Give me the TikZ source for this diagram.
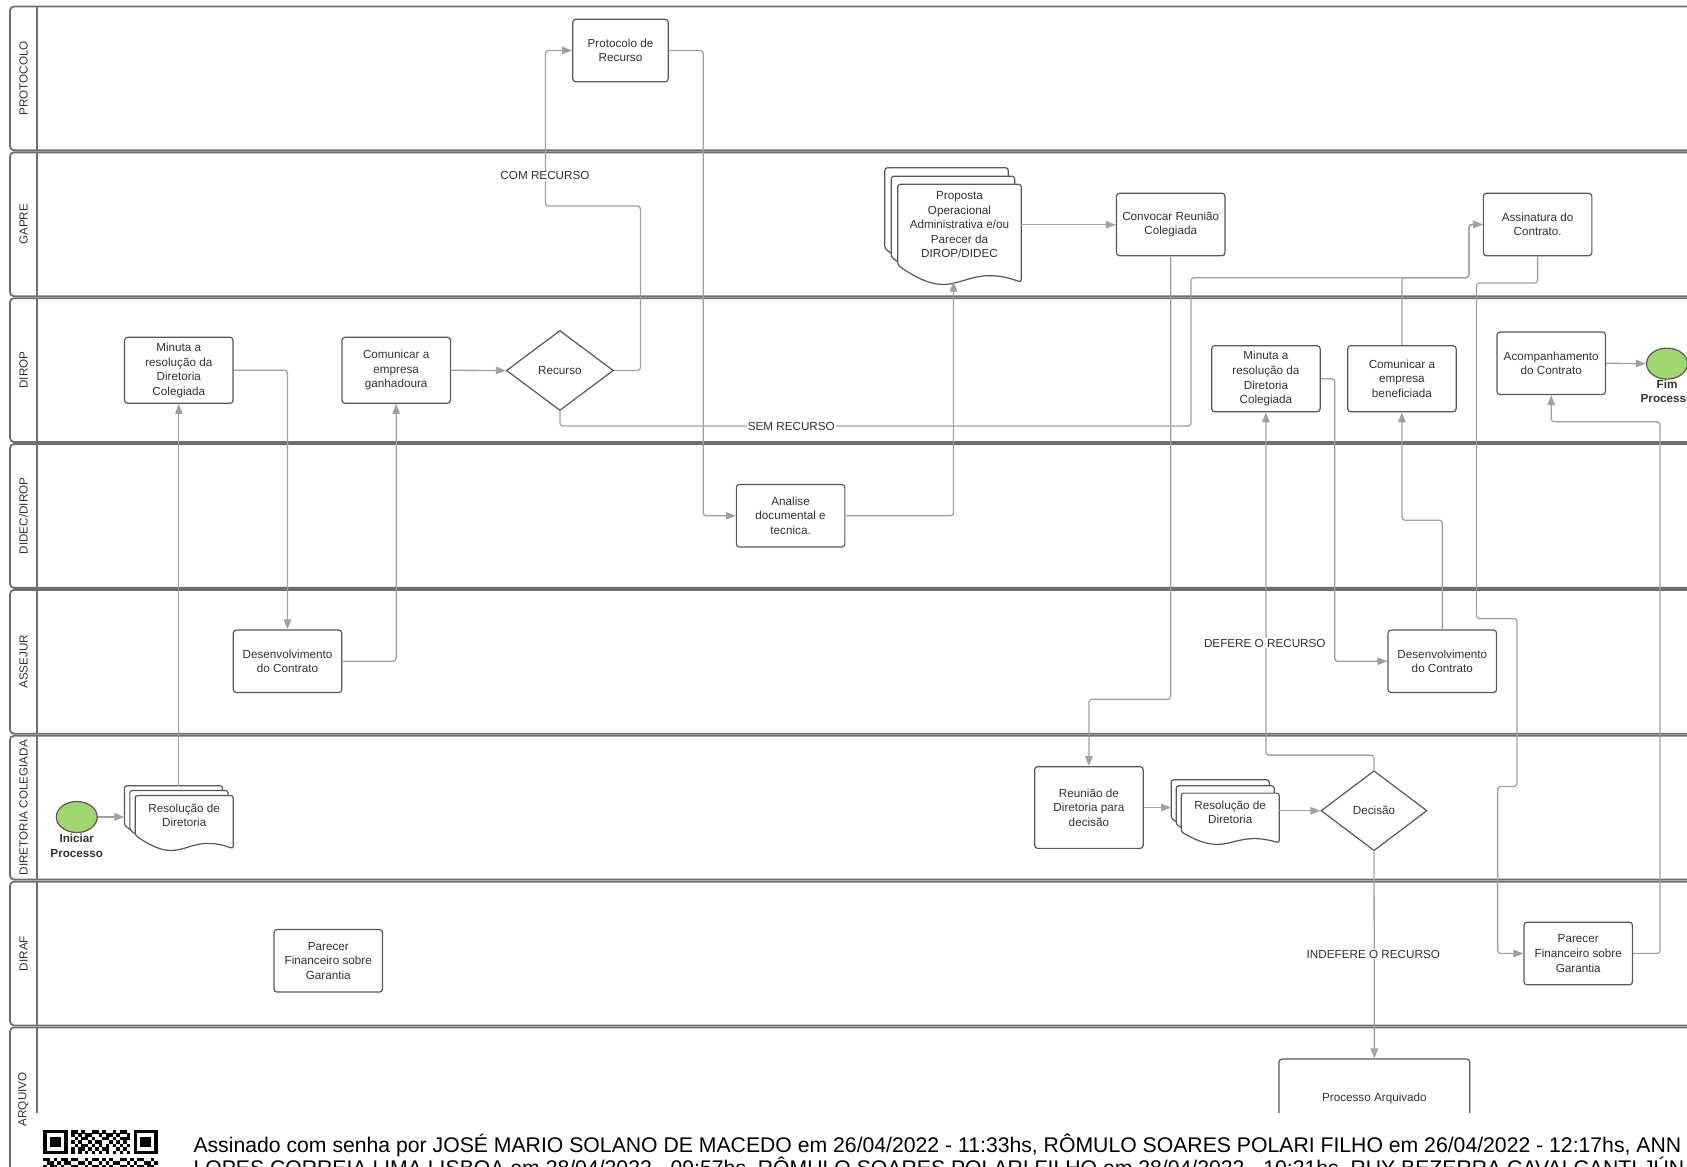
\documentclass[tikz,border=0pt]{standalone}
\usepackage{fontspec}
\setmainfont{Liberation Sans}
\usepackage{xcolor}
\usepackage{tikz}
\usetikzlibrary{shapes.geometric, arrows.meta, positioning, backgrounds, calc}
\definecolor{laneline}{RGB}{110,110,110}
\definecolor{boxline}{RGB}{88,88,88}
\definecolor{flowgray}{RGB}{160,160,160}
\definecolor{textgray}{RGB}{51,51,51}
\definecolor{eventgreen}{RGB}{160,214,110}
\newcommand{\taskfont}{\fontsize{11.7}{14.6}\selectfont}
\newcommand{\lanefont}{\fontsize{11.7}{14}\selectfont}
\newcommand{\footfont}{\fontsize{21.2}{23}\selectfont}
% one sheet of a document stack: node, dx, dy, wave depth
\newcommand{\docsheet}[4]{%
  \draw[docline] ([shift={(#2,#3)}]#1.north west) -- ([shift={(#2,#3)}]#1.north east)
    -- ([shift={(#2,#3+#4)}]#1.south east)
    .. controls ([shift={(#2,#3-0.31*#4)}]#1.south) and ([shift={(#2,#3+2.56*#4)}]#1.south)
    .. ([shift={(#2,#3)}]#1.south west) -- cycle;}
\tikzset{
    lane/.style={draw=laneline, line width=1.8pt, rounded corners=4pt},
    lanesep/.style={draw=laneline, line width=1.4pt},
    lanelabel/.style={rotate=90, font=\lanefont, text=textgray, inner sep=0pt},
    task/.style={rectangle, rounded corners=3pt, minimum width=108.5pt, minimum height=62.5pt,
                 align=center, draw=boxline, fill=white, line width=1.2pt, inner sep=1pt,
                 font=\taskfont, text=textgray},
    decision/.style={diamond, minimum width=107pt, minimum height=80pt, inner sep=0pt,
                     draw=boxline, fill=white, line width=1.2pt, font=\taskfont, text=textgray},
    docnode/.style={rectangle, inner sep=1pt, align=center, font=\taskfont, text=textgray},
    docline/.style={draw=boxline, fill=white, line width=1.2pt, rounded corners=2.5pt},
    event/.style={ellipse, minimum width=41pt, minimum height=31pt, inner sep=0pt,
                  draw=boxline, fill=eventgreen, line width=1.2pt},
    eventlabel/.style={align=center, inner sep=0pt, font=\taskfont\bfseries, text=textgray},
    flow/.style={draw=flowgray, line width=1.3pt, rounded corners=3pt,
                 -{Triangle[length=10pt, width=7.5pt]}},
    flowlabel/.style={fill=white, inner sep=1pt, font=\taskfont, text=textgray},
    foottext/.style={anchor=base west, inner sep=0pt, font=\footfont, text=black}
}

\begin{document}
\begin{tikzpicture}[x=1pt, y=-1pt]
    \useasboundingbox (0,0) rectangle (1687,1167);
    \clip (0,0) rectangle (1687,1167);

    % Lanes
    \begin{scope}[on background layer]
        \foreach \lname [count=\i from 0] in {PROTOCOLO, GAPRE, DIROP, DIDEC/DIROP, ASSEJUR, DIRETORIA COLEGIADA, DIRAF, ARQUIVO} {
            \pgfmathsetmacro{\ltop}{6.5+145.85*\i}
            \draw[lane] (10,\ltop) rectangle (1720,\ltop+143.8);
            \draw[lanesep] (37,\ltop) -- (37,\ltop+143.8);
            \node[lanelabel] (lane\i) at (23.5,\ltop+71.9) {\lname};
        }
    \end{scope}

    % PROTOCOLO
    \node[task, minimum width=95.5pt] (protocolo) at (620.5,50.5) {Protocolo de\\Recurso};

    % GAPRE
    \node[docnode, minimum width=123pt, minimum height=80.5pt] (proposta) at (959.5,224.75)
        {Proposta\\Operacional\\Administrativa e/ou\\Parecer da\\DIROP/DIDEC};
    \node[task] (convocar) at (1170.7,224.5) {Convocar Reunião\\Colegiada};
    \node[task] (assinatura) at (1537.6,224.5) {Assinatura do\\Contrato.};

    % DIROP
    \node[task, minimum height=66pt] (minutaA) at (178.8,370.3) {Minuta a\\resolução da\\Diretoria\\Colegiada};
    \node[task, minimum height=66pt] (comganh) at (396.2,370.3) {Comunicar a\\empresa\\ganhadoura};
    \node[decision] (recurso) at (559.9,370.5) {Recurso};
    \node[task, minimum height=66pt] (minutaB) at (1265.9,378.7) {Minuta a\\resolução da\\Diretoria\\Colegiada};
    \node[task, minimum height=66pt] (combenef) at (1401.9,378.7) {Comunicar a\\empresa\\beneficiada};
    \node[task] (acomp) at (1551.2,363.3) {Acompanhamento\\do Contrato};
    \node[event] (fim) at (1667,363.6) {};
    \node[eventlabel, below=0pt of fim] (fimlabel) {Fim\\Processo};

    % DIDEC/DIROP
    \node[task] (analise) at (790.6,515.7) {Analise\\documental e\\tecnica.};

    % ASSEJUR
    \node[task] (desenvA) at (287.5,661.3) {Desenvolvimento\\do Contrato};
    \node[task] (desenvB) at (1442.3,661.3) {Desenvolvimento\\do Contrato};

    % DIRETORIA COLEGIADA
    \node[event] (start) at (76.8,817) {};
    \node[eventlabel, below=1pt of start] (startlabel) {Iniciar\\Processo};
    \node[docnode, minimum width=97.7pt, minimum height=39.3pt] (resolA) at (184.2,815.3) {Resolução de\\Diretoria};
    \node[task, minimum height=81.7pt] (reuniao) at (1088.9,807.5) {Reunião de\\Diretoria para\\decisão};
    \node[docnode, minimum width=97.6pt, minimum height=38.4pt] (resolB) at (1230.2,812.5) {Resolução de\\Diretoria};
    \node[decision, minimum width=106pt] (decisao) at (1374,810.7) {Decisão};

    % DIRAF
    \node[task] (parecerA) at (328.3,960.8) {Parecer\\Financeiro sobre\\Garantia};
    \node[task] (parecerB) at (1578.2,953.5) {Parecer\\Financeiro sobre\\Garantia};

    % ARQUIVO
    \node[task, minimum width=190.7pt, minimum height=78pt] (arquivo) at (1374.4,1098) {Processo Arquivado};

    % Document stacks
    \begin{scope}[on background layer]
        \docsheet{proposta}{-13}{-16.5}{17}
        \docsheet{proposta}{-6.5}{-8}{17}
        \docsheet{proposta}{0}{0}{17}
        \docsheet{resolA}{-10.7}{-9.7}{13.5}
        \docsheet{resolA}{-5.3}{-5}{13.5}
        \docsheet{resolA}{0}{0}{13.5}
        \docsheet{resolB}{-10}{-13.3}{11}
        \docsheet{resolB}{-5}{-7.3}{11}
        \docsheet{resolB}{0}{0}{11}
    \end{scope}
    \coordinate (propfoot) at (953.5,281.5);
    \coordinate (resolAtop) at (178.8,786);
    \coordinate (resolAin) at ([xshift=-10.7pt]resolA.west);
    \coordinate (resolBin) at ([xshift=-10pt]resolB.west);

    % Connectors
    \draw[flow] (start.east) -- (start.east -| resolAin);
    \draw[flow] (resolAtop) -- (resolAtop |- minutaA.south);
    \draw[flow] (minutaA.east) -| (desenvA.north);
    \draw[flow] (desenvA.east) -| (comganh.south);
    \draw[flow] (comganh.east) -- (recurso.west);
    \draw[flow] (recurso.east) -- ++(26.5,0) |- (545.5,206) |- (protocolo.west);
    \draw[flow] (recurso.south) |- (1191,426) |- (1469,277.7) |- (assinatura.west);
    \draw[flow] (combenef.north) |- (1469,277.7) |- (assinatura.west);
    \draw[flow] (protocolo.east) -- ++(34.3,0) |- (analise.west);
    \draw[flow] (analise.east) -| (propfoot);
    \draw[flow] (proposta.east) -- (proposta.east -| convocar.west);
    \draw[flow] (convocar.south) -- ++(0,443) -| (reuniao.north);
    \draw[flow] (reuniao.east) -- (reuniao.east -| resolBin);
    \draw[flow] (resolB.east |- decisao.west) -- (decisao.west);
    \draw[flow] (decisao.north) -- ++(0,-15) -| (minutaB.south);
    \draw[flow] (minutaB.east) -- ++(14,0) |- (desenvB.west);
    \draw[flow] (desenvB.north) -- ++(0,-109.3) -| (combenef.south);
    \draw[flow] (assinatura.south) |- (1476.5,283) |- (1517,618.6) |- (1497.6,786.5) |- (parecerB.west);
    \draw[flow] (parecerB.east) -| (1660,421.8) -| (acomp.south);
    \draw[flow] (acomp.east) -- (fim.west);
    \draw[flow] (decisao.south) -- (arquivo.north);

    % Labels on connectors
    \node[flowlabel] (lblcom) at (545,175.7) {COM RECURSO};
    \node[flowlabel] (lblsem) at (791.3,426) {SEM RECURSO};
    \node[flowlabel] (lbldefere) at (1264.8,643.3) {DEFERE O RECURSO};
    \node[flowlabel] (lblindefere) at (1373.3,954) {INDEFERE O RECURSO};

    % Signature footer
    \fill[white] (36,1113) rectangle (1687,1167);
    \foreach \fx in {0,26} {
        \fill (43.3+3.47*\fx,1130) rectangle ++(24.3,24.3);
        \fill[white] (46.77+3.47*\fx,1133.47) rectangle ++(17.35,17.35);
        \fill (50.24+3.47*\fx,1136.94) rectangle ++(10.41,10.41);
    }
    \foreach \c/\r in {8/0,9/0,11/0,14/0,15/0,17/0,20/0,22/0,23/0,
                       8/1,10/1,12/1,13/1,16/1,18/1,19/1,21/1,24/1,
                       9/2,11/2,12/2,14/2,17/2,18/2,20/2,22/2,23/2,24/2,
                       8/3,10/3,13/3,15/3,16/3,19/3,21/3,23/3,
                       9/4,11/4,12/4,14/4,16/4,18/4,20/4,22/4,24/4,
                       8/5,10/5,11/5,13/5,15/5,17/5,18/5,21/5,23/5,
                       8/6,10/6,12/6,14/6,16/6,18/6,20/6,22/6,24/6,
                       0/8,1/8,3/8,5/8,6/8,8/8,9/8,12/8,14/8,15/8,17/8,19/8,22/8,23/8,25/8,27/8,28/8,31/8,
                       1/9,2/9,4/9,6/9,7/9,10/9,11/9,13/9,16/9,18/9,20/9,21/9,24/9,26/9,29/9,30/9,32/9,
                       0/10,2/10,3/10,5/10,8/10,9/10,12/10,14/10,15/10,17/10,19/10,22/10,23/10,25/10,27/10,28/10,30/10,31/10} {
        \fill (43.3+3.47*\c,1130+3.47*\r) rectangle ++(3.5,3.5);
    }
    \node[foottext] (footA) at (193.3,1152.7) {Assinado com senha por JOSÉ MARIO SOLANO DE MACEDO em 26/04/2022 - 11:33hs, RÔMULO SOARES POLARI FILHO em 26/04/2022 - 12:17hs, ANN};
    \node[foottext] (footB) at (193.3,1175.5) {LOPES CORREIA LIMA LISBOA em 28/04/2022 - 09:57hs, RÔMULO SOARES POLARI FILHO em 28/04/2022 - 10:21hs, RUY BEZERRA CAVALCANTI JÚN};
\end{tikzpicture}
\end{document}
